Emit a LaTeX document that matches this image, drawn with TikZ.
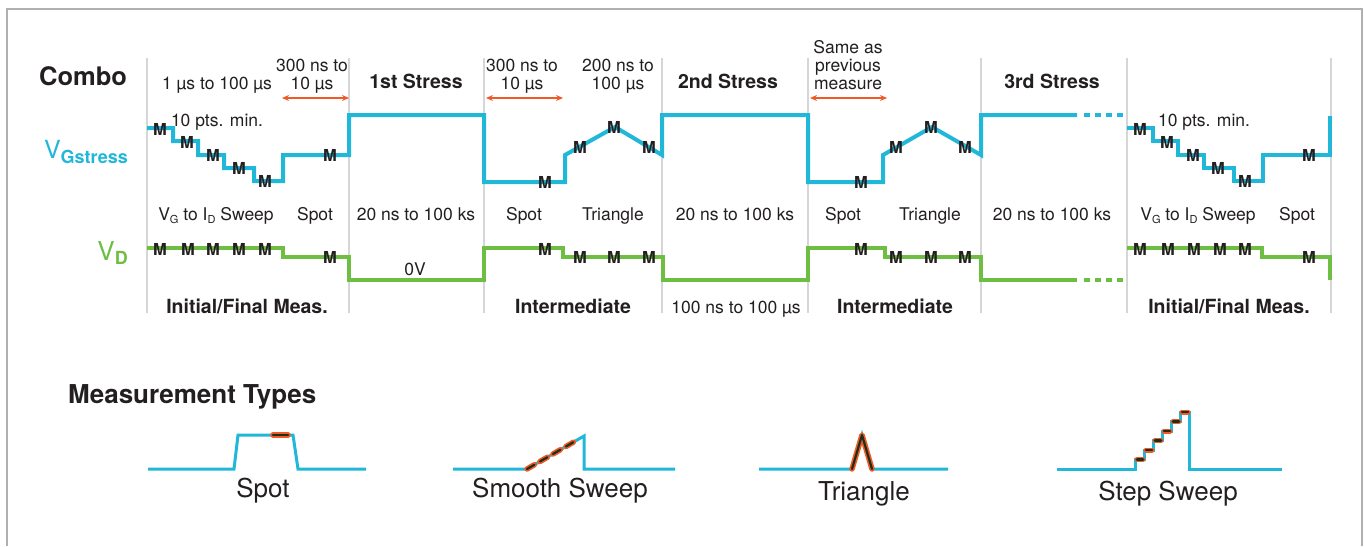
\documentclass[tikz,border=0pt]{standalone}
\usepackage{fontspec}
\setmainfont{TeX Gyre Heros}
\usetikzlibrary{arrows.meta}

\definecolor{vgblue}{RGB}{32,183,216}
\definecolor{vdgreen}{RGB}{110,190,68}
\definecolor{spanorange}{RGB}{240,90,40}
\definecolor{hidark}{RGB}{28,48,24}
\definecolor{sepgray}{RGB}{214,214,214}
\definecolor{framegray}{RGB}{176,176,176}
\definecolor{txt}{RGB}{35,31,32}

\tikzset{
  sep/.style={draw=sepgray, line width=2pt},
  vgline/.style={draw=vgblue, line width=4pt},
  vdline/.style={draw=vdgreen, line width=4pt},
  typline/.style={draw=vgblue, line width=3pt},
  mlab/.style={font=\fontsize{16.5}{16.5}\selectfont\bfseries, text=txt, inner sep=0pt},
  lab/.style={font=\fontsize{17.5}{18}\selectfont, text=txt, inner sep=0pt, anchor=base},
  hdr/.style={font=\fontsize{19.5}{20}\selectfont\bfseries, text=txt, inner sep=0pt, anchor=base},
  typ/.style={font=\fontsize{26}{26}\selectfont, text=txt, inner sep=0pt, anchor=base},
  span/.style={draw=spanorange, line width=1.5pt, {Stealth[length=7pt,width=6pt]}-{Stealth[length=7pt,width=6pt]}},
  hilite/.style={draw=spanorange, line width=5.5pt, line cap=round, line join=round},
  hicore/.style={draw=hidark, line width=2.2pt, line cap=round, line join=round},
}
\newcommand{\vgid}{V\raisebox{-3pt}{\fontsize{11}{11}\selectfont G} to I\raisebox{-3pt}{\fontsize{11}{11}\selectfont D} Sweep}

\begin{document}
\begin{tikzpicture}[x=1pt, y=-1pt]
	\useasboundingbox (0,0) rectangle (1364,546);
	% frame
	\draw[framegray, line width=1.5pt] (7,546) -- (7,9) -- (1362,9) -- (1362,546);
	% phase separators
	\foreach \x in {147,349,484,662,808,981,1127,1331} \draw[sep] (\x,58) -- (\x,313);

	% row titles
	\node[font=\fontsize{25.5}{26}\selectfont\bfseries, text=txt, inner sep=0pt, anchor=base] (combo) at (83,85) {Combo};
	\node[text=vgblue, inner sep=0pt, anchor=base east] (vgs) at (128,158) {\fontsize{25}{25}\selectfont V\raisebox{-5pt}{\fontsize{18}{18}\selectfont\bfseries Gstress}};
	\node[text=vdgreen, inner sep=0pt, anchor=base east] (vdl) at (128,260.5) {\fontsize{26}{26}\selectfont V\raisebox{-3.5pt}{\fontsize{18}{18}\selectfont\bfseries D}};

	% top timing labels
	\node[lab] (t1) at (217,89) {1 µs to 100 µs};
	\node[lab] (t2a) at (312,71.5) {300 ns to};
	\node[lab] (t2b) at (312,89) {10 µs};
	\node[hdr] (s1) at (416,88) {1st Stress};
	\node[lab] (t3a) at (522,71.5) {300 ns to};
	\node[lab] (t3b) at (522,89) {10 µs};
	\node[lab] (t4a) at (618,71.5) {200 ns to};
	\node[lab] (t4b) at (618,89) {100 µs};
	\node[hdr] (s2) at (728,88) {2nd Stress};
	\node[lab] (t5a) at (848,53.5) {Same as};
	\node[lab] (t5b) at (848,71.5) {previous};
	\node[lab] (t5c) at (848,89) {measure};
	\node[hdr] (s3) at (1052,88) {3rd Stress};
	\draw[span] (282,98) -- (349,98);
	\draw[span] (486,98) -- (563,98);
	\draw[span] (810,98) -- (887,98);
	\node[lab] (p1) at (217,126.5) {10 pts. min.};
	\node[lab] (p2) at (1204,126.5) {10 pts. min.};

	% V_Gstress waveform
	\draw[vgline] (147,128) -| (173,141) -| (198,155) -| (224,168) -| (254,181) -| (283,155) -| (349,115) -| (484,182) -| (565,155) -- (615,127) -- (662,155) |- (808,115) |- (883,182) -- (883,155) -- (932,127) -- (981,155) |- (1077,115);
	\draw[vgline, dash pattern=on 6pt off 5pt] (1084,115) -- (1123,115);
	\draw[vgline] (1127,128) -| (1153,141) -| (1178,155) -| (1204,168) -| (1234,181) -| (1263,155) -| (1330,116);

	% V_D waveform
	\draw[vdline] (147,247.5) -| (283,256.5) -| (349,280) -| (484,247.5) -| (563,256.5) -| (663,280) -| (808,247.5) -| (885,256.5) -| (981,280) -- (1077,280);
	\draw[vdline, dash pattern=on 6pt off 5pt] (1084,280) -- (1123,280);
	\draw[vdline] (1127,247.5) -| (1262,256.5) -| (1330,280);

	% measure points
	\foreach \x/\y [count=\i] in {160/129,187/142,213/155,239/168,265/181,330/155,545/182,580/147,614/127,649/147,861/182,896/147,931/127,965/147,1140/129,1167/142,1193/155,1218/168,1245/181,1309/155}
		\node[mlab] (mg\i) at (\x,\y) {M};
	\foreach \x/\y [count=\i] in {160/249,188/249,213/249,239/249,265/249,330/257,545/249,580/257,614/257,649/257,861/249,896/257,931/257,965/257,1140/249,1168/249,1194/249,1220/249,1245/249,1309/257}
		\node[mlab] (md\i) at (\x,\y) {M};

	% row of measurement kinds
	\foreach \x/\t [count=\i] in {216/\vgid,315/Spot,416/20 ns to 100 ks,524/Spot,613/Triangle,735/20 ns to 100 ks,843/Spot,930/Triangle,1052/20 ns to 100 ks,1198/\vgid,1297/Spot}
		\node[lab] (k\i) at (\x,220.5) {\t};
	\node[lab] (zero) at (415,275) {0V};

	% phase names
	\node[hdr] (ph1) at (247,313) {Initial/Final Meas.};
	\node[hdr] (ph2) at (573,313) {Intermediate};
	\node[lab] (ph3) at (736,313) {100 ns to 100 µs};
	\node[hdr] (ph4) at (895,313) {Intermediate};
	\node[hdr] (ph5) at (1229,313) {Initial/Final Meas.};

	% measurement types
	\node[font=\fontsize{26}{26}\selectfont\bfseries, text=txt, inner sep=0pt, anchor=base west] (mtypes) at (68,403) {Measurement Types};
	% spot
	\draw[typline] (148,469) -- (234,469) -- (238,435) -- (293,435) -- (298,469) -- (366,469);
	\draw[hilite] (273,435) -- (288,435);
	\draw[hicore] (273,435) -- (288,435);
	\node[typ] (tspot) at (263,497) {Spot};
	% smooth sweep
	\draw[typline] (453,469) -- (527,469) -- (584,436) -- (584,469) -- (675,469);
	\draw[hilite, dash pattern=on 8.5pt off 6.5pt] (527,469) -- (578,439.5);
	\draw[hicore, dash pattern=on 8.5pt off 6.5pt] (527,469) -- (578,439.5);
	\node[typ] (tsmooth) at (560,497) {Smooth Sweep};
	% triangle
	\draw[typline] (759,469) -- (852,469) -- (862,435) -- (872,469) -- (948,469);
	\draw[hilite] (852,469) -- (862,435) -- (872,469);
	\draw[hicore] (852,469) -- (862,435) -- (872,469);
	\node[typ] (ttri) at (864,500) {Triangle};
	% step sweep
	\draw[typline] (1057,469) -| (1135,459.5) -| (1144,450) -| (1153,440.5) -| (1162,431) -| (1171,421.5) -| (1180,412) -- (1189,412) -- (1189,469) -- (1282,469);
	\foreach \i in {0,...,5} {
		\draw[hilite, line width=5pt] ({1137+9*\i},{459.5-9.5*\i}) -- ({1143+9*\i},{459.5-9.5*\i});
		\draw[hicore, line width=2.6pt] ({1137+9*\i},{459.5-9.5*\i}) -- ({1143+9*\i},{459.5-9.5*\i});
	}
	\node[typ] (tstep) at (1168,500) {Step Sweep};
\end{tikzpicture}
\end{document}
